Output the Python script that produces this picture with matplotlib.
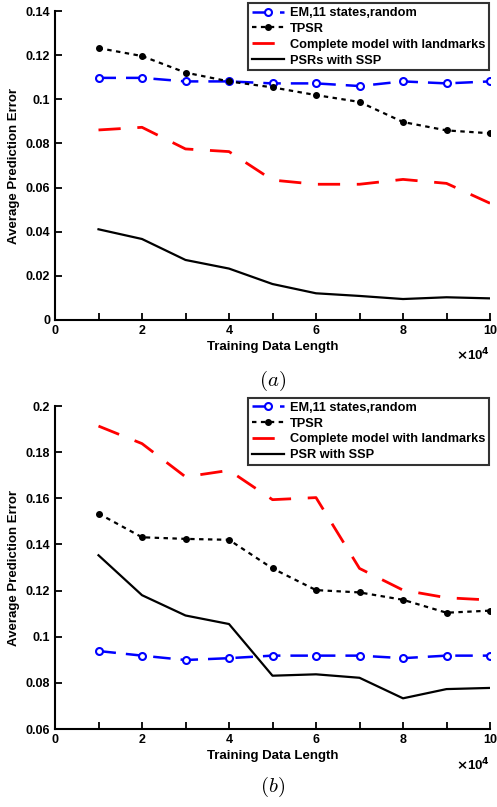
import matplotlib
matplotlib.use("Agg")
import matplotlib.pyplot as plt
from matplotlib.ticker import MultipleLocator

plt.rcParams['font.family'] = ['Liberation Sans', 'DejaVu Sans']
plt.rcParams['font.weight'] = 'bold'
plt.rcParams['mathtext.fontset'] = 'cm'

x = [1, 2, 3, 4, 5, 6, 7, 8, 9, 10]

# panel (a)
em_a = [0.1097, 0.1097, 0.1081, 0.1081, 0.1072, 0.1072, 0.1060, 0.1081, 0.1072, 0.1081]
tpsr_a = [0.1232, 0.1196, 0.1121, 0.1081, 0.1054, 0.1019, 0.0988, 0.0897, 0.0859, 0.0846]
comp_a = [0.0861, 0.0873, 0.0775, 0.0763, 0.0634, 0.0615, 0.0615, 0.0637, 0.0619, 0.0529]
psr_a = [0.0411, 0.0367, 0.0272, 0.0233, 0.0163, 0.0121, 0.0109, 0.0095, 0.0103, 0.0098]

# panel (b)
em_b = [0.0938, 0.0918, 0.0899, 0.0907, 0.0918, 0.0918, 0.0918, 0.0907, 0.0918, 0.0918]
tpsr_b = [0.1534, 0.1431, 0.1424, 0.1420, 0.1296, 0.1202, 0.1192, 0.1160, 0.1104, 0.1113]
comp_b = [0.1913, 0.1837, 0.1693, 0.1721, 0.1594, 0.1603, 0.1296, 0.1202, 0.1169, 0.1159]
psr_b = [0.1353, 0.1180, 0.1092, 0.1055, 0.0831, 0.0837, 0.0822, 0.0733, 0.0773, 0.0778]

labels_a = ['EM,11 states,random', 'TPSR', 'Complete model with landmarks', 'PSRs with SSP']
labels_b = ['EM,11 states,random', 'TPSR', 'Complete model with landmarks', 'PSR with SSP']

W, H = 497, 807
fig = plt.figure(figsize=(W / 100, H / 100), dpi=100)

def make_ax(left, top, right, bottom):
    return fig.add_axes([left / W, 1 - bottom / H, (right - left) / W, (bottom - top) / H])

def draw(ax, em, tpsr, comp, psr, labels, ylim, ystep, caption, cap_y):
    ax.plot(x, em, color='#0000ff', ls=(0, (7, 4)), lw=1.8, marker='o', ms=5,
            mfc='white', mec='#0000ff', mew=1.5, label=labels[0])
    ax.plot(x, tpsr, color='black', ls=(0, (2, 2)), lw=1.6, marker='o', ms=4,
            mfc='black', mec='black', label=labels[1])
    ax.plot(x, comp, color='#ff0000', ls=(0, (8, 6)), lw=2.0, label=labels[2])
    ax.plot(x, psr, color='black', ls='-', lw=1.6, label=labels[3])
    ax.set_xlim(0, 10)
    ax.set_ylim(*ylim)
    ax.xaxis.set_major_locator(MultipleLocator(2))
    ax.xaxis.set_minor_locator(MultipleLocator(1))
    ax.yaxis.set_major_locator(MultipleLocator(ystep))
    ax.tick_params(direction='in', which='both', labelsize=9, width=1.3, top=False, right=False)
    ax.tick_params(which='major', length=5)
    ax.tick_params(which='minor', length=5)
    for lab in ax.get_xticklabels() + ax.get_yticklabels():
        lab.set_fontweight('bold')
    ax.yaxis.set_major_formatter(matplotlib.ticker.FuncFormatter(lambda v, p: ('%g' % round(v, 3))))
    ax.spines['top'].set_visible(False)
    ax.spines['right'].set_visible(False)
    ax.spines['left'].set_linewidth(1.5)
    ax.spines['bottom'].set_linewidth(1.5)
    ax.set_xlabel('Training Data Length', fontsize=9.5, fontweight='bold', labelpad=3)
    ax.set_ylabel('Average Prediction Error', fontsize=9.5, fontweight='bold', labelpad=4)
    ax.text(1.0, -0.085, r'$\times$10$^{\mathbf{4}}$', transform=ax.transAxes, ha='right', va='top',
            fontsize=9.5, fontweight='bold', math_fontfamily='dejavusans')
    leg = ax.legend(loc='upper right', bbox_to_anchor=(0.998, 1.025), fontsize=9.2, frameon=True,
                    fancybox=False, edgecolor='black', handlelength=2.5, borderpad=0.3,
                    labelspacing=0.3, handletextpad=0.5, borderaxespad=0.0)
    leg.get_frame().set_linewidth(1.5)
    for t in leg.get_texts():
        t.set_fontweight('bold')
    fig.text(0.5 * (55 + 490) / W, 1 - cap_y / H, caption, ha='center', va='center', fontsize=15)

ax1 = make_ax(55, 11, 490, 320)
draw(ax1, em_a, tpsr_a, comp_a, psr_a, labels_a, (0, 0.14), 0.02, r'$(a)$', 381)
ax2 = make_ax(55, 406, 490, 729)
draw(ax2, em_b, tpsr_b, comp_b, psr_b, labels_b, (0.06, 0.2), 0.02, r'$(b)$', 787)

fig.savefig('out.png', dpi=100)
